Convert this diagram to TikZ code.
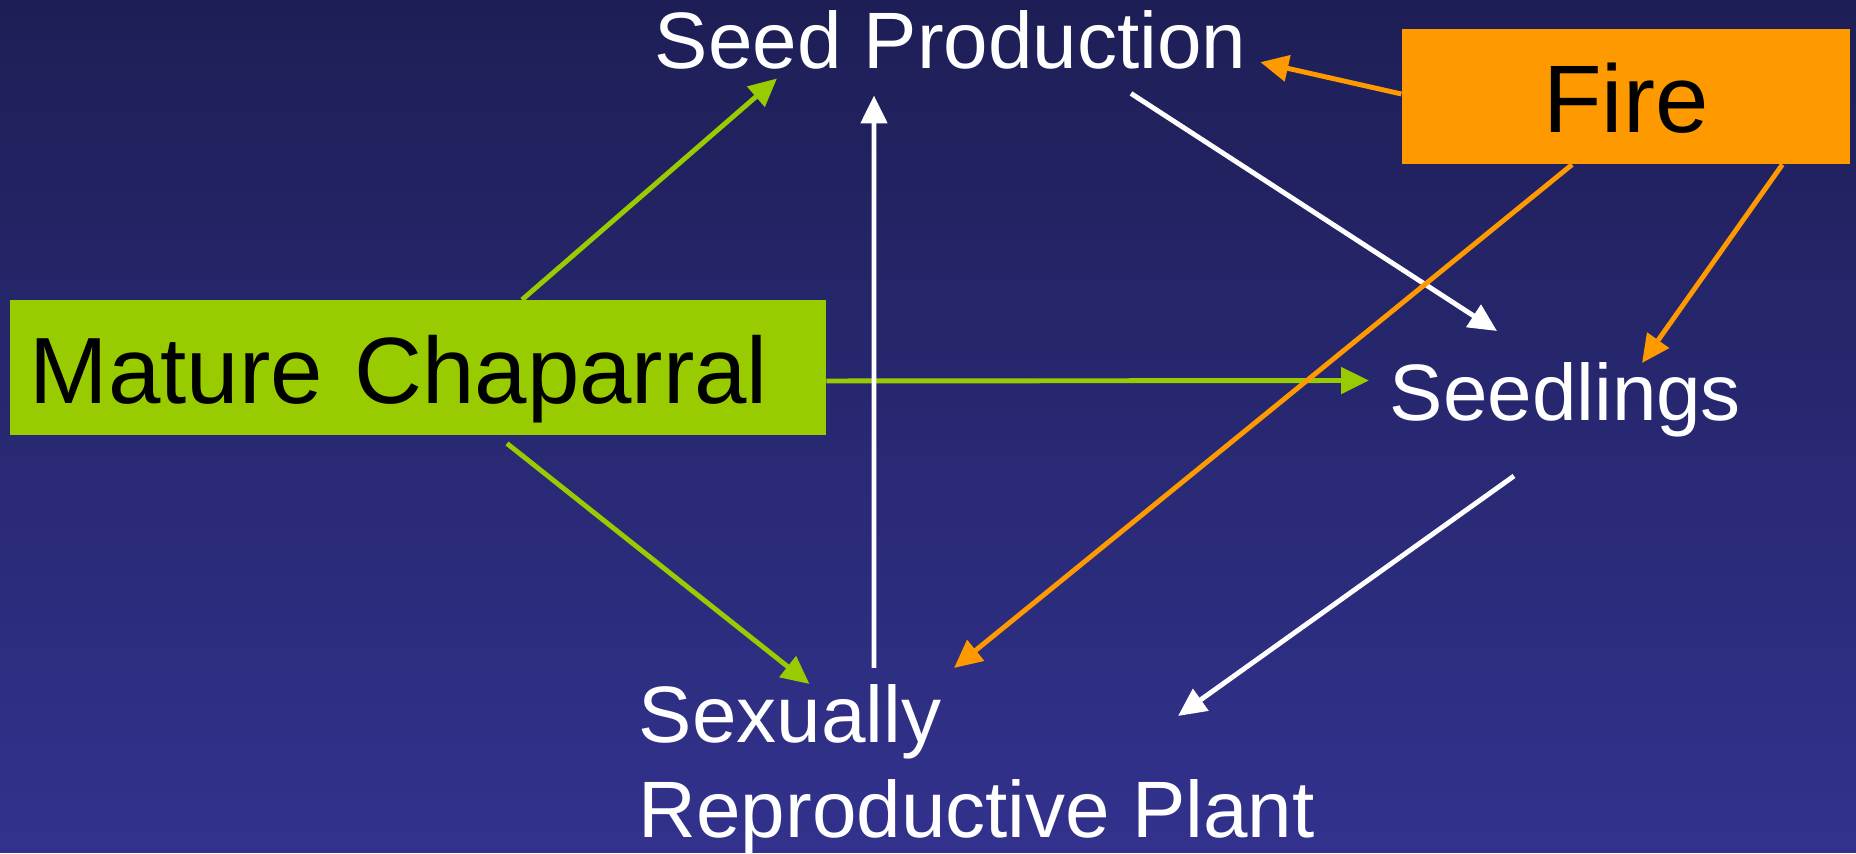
\documentclass[tikz,border=0pt]{standalone}
\usepackage{fontspec}
\setmainfont{Liberation Sans}
\usetikzlibrary{arrows.meta}
\definecolor{navytop}{RGB}{30,30,86}
\definecolor{navybot}{RGB}{50,50,142}
\definecolor{chapgreen}{RGB}{153,204,0}
\definecolor{fireorange}{RGB}{255,153,0}
\begin{document}
\begin{tikzpicture}[>={Triangle[length=2.8mm,width=2.6mm]},box/.style={minimum height=1.35cm, text height=0.72cm, text depth=0cm, inner xsep=0.25cm, text=black, font=\fontsize{27.3}{32}\selectfont},lbl/.style={text=white, inner sep=0pt, font=\fontsize{22.76}{26.9}\selectfont},link/.style={->, line width=1.4pt}]
\shade[top color=navytop, bottom color=navybot] (0,0) rectangle (18.56,8.53);
\node[box, fill=chapgreen, align=left, inner xsep=0.2cm, text width=7.758cm, font=\fontsize{26.8}{32}\selectfont] (chaparral) at (4.177,4.85) {Mature Chaparral};
\node[box, fill=fireorange, minimum width=4.475cm] (fire) at (16.258,7.566) {Fire};
\node[lbl, anchor=base west] (seedprod) at (6.54,7.84) {Seed Production};
\node[lbl, anchor=base west] (seedlings) at (13.89,4.323) {Seedlings};
\node[lbl, anchor=north west, align=left] (plant) at (6.38,1.69) {Sexually\\Reproductive Plant};
\draw[link, chapgreen] ([xshift=1.043cm]chaparral.north) -- ([shift={(1.23,-0.08)}]seedprod.south west);
\draw[link, chapgreen] ([yshift=-0.13cm]chaparral.east) -- ([shift={(-0.20,0.195)}]seedlings.west);
\draw[link, chapgreen] ([shift={(0.893,-0.073)}]chaparral.south) -- ([xshift=1.715cm]plant.north west);
\draw[link, white] ([shift={(2.36,0.16)}]plant.north west) -- ([shift={(2.20,-0.25)}]seedprod.south west);
\draw[link, white] ([shift={(4.77,-0.23)}]seedprod.south west) -- ([shift={(1.08,0.31)}]seedlings.north west);
\draw[link, white] ([shift={(1.25,-0.38)}]seedlings.south west) -- ([shift={(5.40,-0.32)}]plant.north west);
\draw[link, fireorange] ([yshift=0.024cm]fire.west) -- ([shift={(0.135,0.083)}]seedprod.south east);
\draw[link, fireorange] ([xshift=1.707cm]fire.south west) -- ([shift={(3.16,0.16)}]plant.north west);
\draw[link, fireorange] ([xshift=3.81cm]fire.south west) -- ([shift={(2.53,-0.01)}]seedlings.north west);
\end{tikzpicture}
\end{document}
